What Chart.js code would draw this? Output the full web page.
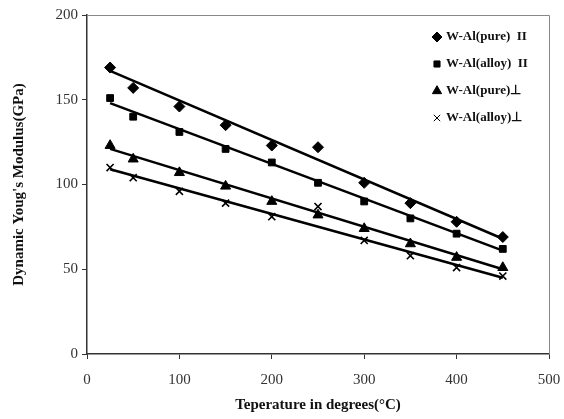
<!DOCTYPE html>
<html>
<head>
<meta charset="utf-8">
<script src="https://cdn.jsdelivr.net/npm/chart.js@4/dist/chart.umd.min.js"></script>
<style>
  html, body { margin: 0; padding: 0; background: #fff; }
  #wrap { width: 564px; height: 419px; position: relative; }
</style>
</head>
<body>
<div id="wrap"><canvas id="graficoModulo"></canvas></div>
<script>
// Temperatures (°C) where the modulus was measured
const temperaturas = [25, 50, 100, 150, 200, 250, 300, 350, 400, 450];

// Dynamic Young's modulus (GPa)
const puroParalelo = [169, 157, 146, 135, 123, 122, 101, 89, 78, 69];
const ligaParalelo = [151, 140, 131, 121, 113, 101, 90, 80, 71, 62];
const puroPerpend = [123, 115, 107, 99, 90, 82, 74, 65, 57, 51];
const ligaPerpend = [110, 104, 96, 89, 81, 87, 67, 58, 51, 46];

// Trend lines (start at 25 °C, end at 450 °C)
const tendX = [25, 450];
const tendPuroParalelo = [167, 68];
const tendLigaParalelo = [148, 61];
const tendPuroPerpend = [121, 50];
const tendLigaPerpend = [109, 45];

const nomesSeries = ['W-Al(pure)  II', 'W-Al(alloy)  II', 'W-Al(pure)\u22A5', 'W-Al(alloy)\u22A5'];
const estilos = ['rectRot', 'rect', 'triangle', 'crossRot'];
const raios = [5.5, 4.8, 5.8, 5];

const ticksX = [0, 100, 200, 300, 400, 500];
const ticksY = [0, 50, 100, 150, 200];

function pontos(xs, ys) {
    return xs.map((x, i) => ({ x: x, y: ys[i] }));
}

const valores = [puroParalelo, ligaParalelo, puroPerpend, ligaPerpend];
const tendencias = [tendPuroParalelo, tendLigaParalelo, tendPuroPerpend, tendLigaPerpend];

const datasets = [];
tendencias.forEach((t, i) => {
    datasets.push({
        label: 'tend' + i,
        data: pontos(tendX, t),
        showLine: true,
        borderColor: '#000',
        borderWidth: 2.5,
        pointRadius: 0,
        fill: false
    });
});
valores.forEach((v, i) => {
    datasets.push({
        label: nomesSeries[i],
        data: pontos(temperaturas, v),
        showLine: false,
        pointStyle: estilos[i],
        pointRadius: raios[i],
        backgroundColor: '#000',
        borderColor: '#000',
        borderWidth: i === 3 ? 1.6 : 1
    });
});

// Frame around the plot area (top/right in grey)
const moldura = {
    id: 'moldura',
    beforeDatasetsDraw(chart) {
        const { ctx, chartArea: a } = chart;
        ctx.save();
        ctx.strokeStyle = '#888';
        ctx.lineWidth = 1;
        ctx.beginPath();
        ctx.moveTo(a.left, a.top + 0.5);
        ctx.lineTo(a.right + 0.5, a.top + 0.5);
        ctx.lineTo(a.right + 0.5, a.bottom);
        ctx.stroke();
        ctx.restore();
    }
};

// Legend drawn inside the plot area, upper right
const legenda = {
    id: 'legenda',
    afterDatasetsDraw(chart) {
        const { ctx } = chart;
        ctx.save();
        ctx.font = 'bold 13px "Liberation Serif", serif';
        ctx.textBaseline = 'middle';
        nomesSeries.forEach((nome, i) => {
            const y = 37 + i * 27;
            ctx.fillStyle = '#000';
            ctx.strokeStyle = '#000';
            Chart.helpers.drawPoint(ctx, {
                pointStyle: estilos[i],
                radius: raios[i] - 0.5,
                borderWidth: i === 3 ? 1.5 : 1
            }, 437, y);
            ctx.fillStyle = '#111';
            ctx.fillText(nome, 446, y);
        });
        ctx.restore();
    }
};

const fonteTick = { family: '"Liberation Serif", serif', size: 15 };
const fonteTitulo = { family: '"Liberation Serif", serif', size: 15, weight: 'bold' };

const ctx = document.getElementById('graficoModulo').getContext('2d');
const grafico = new Chart(ctx, {
    type: 'scatter',
    data: { datasets: datasets },
    options: {
        responsive: true,
        maintainAspectRatio: false,
        animation: false,
        layout: { padding: { left: 0, right: 15, top: 15, bottom: 0 } },
        scales: {
            x: {
                type: 'linear',
                min: 0,
                max: 500,
                afterBuildTicks: (s) => { s.ticks = ticksX.map(v => ({ value: v })); },
                afterFit: (s) => { s.height = 65; s.paddingLeft = 0; s.paddingRight = 0; },
                grid: { display: true, drawOnChartArea: false, tickLength: 5, tickColor: '#333' },
                border: { color: '#333', width: 1.5 },
                ticks: { color: '#333', font: fonteTick, padding: 12, maxRotation: 0 },
                title: { display: true, text: 'Teperature in degrees(\u00B0C)', color: '#111', font: fonteTitulo, padding: { top: 4, bottom: 5 } }
            },
            y: {
                type: 'linear',
                min: 0,
                max: 200,
                afterBuildTicks: (s) => { s.ticks = ticksY.map(v => ({ value: v })); },
                afterFit: (s) => { s.width = 87; s.paddingTop = 0; s.paddingBottom = 0; },
                grid: { display: true, drawOnChartArea: false, tickLength: 5, tickColor: '#333' },
                border: { color: '#333', width: 1.5 },
                ticks: { color: '#333', font: fonteTick, padding: 4 },
                title: { display: true, text: "Dynamic Youg's Modulus(GPa)", color: '#111', font: fonteTitulo, padding: { top: 10, bottom: 2 } }
            }
        },
        plugins: {
            legend: { display: false },
            tooltip: { enabled: false }
        }
    },
    plugins: [moldura, legenda]
});
</script>
</body>
</html>
